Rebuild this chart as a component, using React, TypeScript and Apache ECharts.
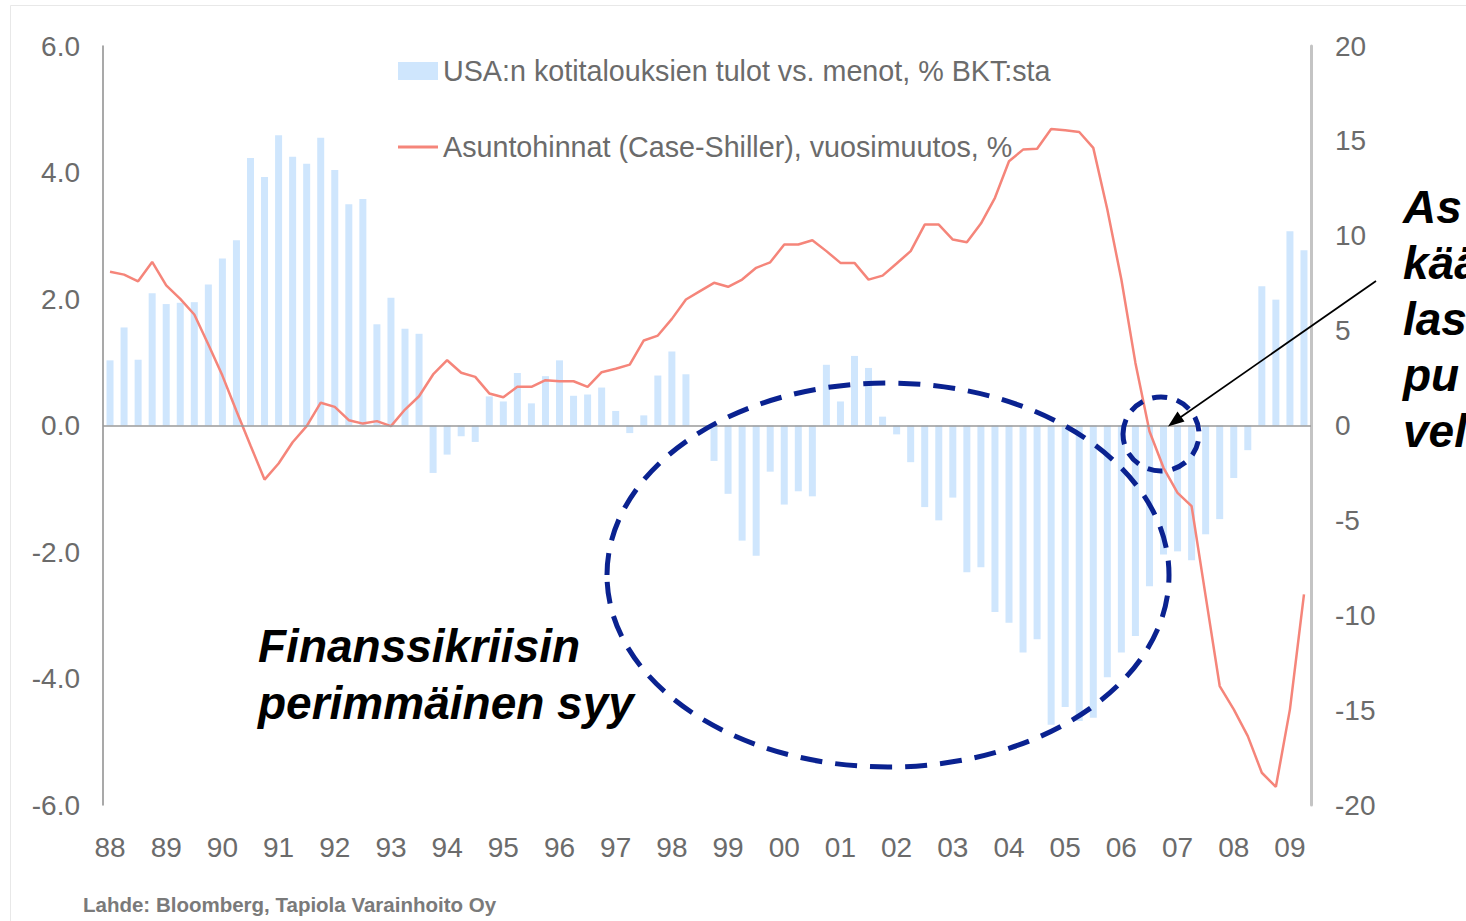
import React, { useEffect, useRef } from 'react';
import * as echarts from 'echarts';

const years = ['88', '89', '90', '91', '92', '93', '94', '95', '96', '97', '98', '99', '00', '01', '02', '03', '04', '05', '06', '07', '08', '09'];
const quarters = ['Q1', 'Q2', 'Q3', 'Q4'];
const lastYearQuarters = 2;

const categories: string[] = [];
years.forEach((y, yi) => {
  const n = yi === years.length - 1 ? lastYearQuarters : 4;
  for (let q = 0; q < n; q++) categories.push(y + quarters[q]);
});

// USA:n kotitalouksien tulot vs. menot, % BKT:sta (left axis)
const incomeVsSpending = [
  1.03, 1.55, 1.04, 2.09, 1.92, 1.94, 1.95, 2.23, 2.64, 2.93,
  4.23, 3.93, 4.59, 4.25, 4.14, 4.55, 4.04, 3.5, 3.58, 1.6,
  2.02, 1.53, 1.45, -0.75, -0.46, -0.17, -0.26, 0.46, 0.38, 0.83,
  0.35, 0.78, 1.03, 0.47, 0.49, 0.6, 0.23, -0.12, 0.16, 0.79,
  1.17, 0.81, 0.0, -0.56, -1.08, -1.82, -2.06, -0.73, -1.25, -1.04,
  -1.12, 0.96, 0.38, 1.1, 0.91, 0.14, -0.14, -0.58, -1.29, -1.5,
  -1.14, -2.32, -2.24, -2.95, -3.12, -3.59, -3.38, -4.73, -4.45, -4.67,
  -4.62, -3.98, -3.59, -3.33, -2.54, -2.04, -1.99, -2.13, -1.72, -1.48,
  -0.83, -0.39, 2.2, 1.99, 3.07, 2.77,
];

// Asuntohinnat (Case-Shiller), vuosimuutos, % (right axis)
const homePrices = [
  8.1, 7.95, 7.6, 8.62, 7.38, 6.67, 5.85, 4.27, 2.63, 0.76,
  -1.05, -2.85, -2.0, -0.88, -0.03, 1.2, 0.98, 0.28, 0.1, 0.23,
  -0.03, 0.84, 1.54, 2.69, 3.44, 2.78, 2.56, 1.69, 1.49, 2.04,
  2.04, 2.39, 2.33, 2.33, 2.04, 2.81, 2.99, 3.21, 4.48, 4.74,
  5.62, 6.64, 7.08, 7.52, 7.31, 7.69, 8.31, 8.6, 9.54, 9.54,
  9.76, 9.19, 8.57, 8.57, 7.69, 7.9, 8.54, 9.19, 10.59, 10.59,
  9.8, 9.66, 10.64, 12.0, 13.93, 14.54, 14.58, 15.63, 15.56, 15.47,
  14.63, 11.38, 7.69, 3.3, -0.3, -2.23, -3.55, -4.25, -8.99, -13.73,
  -14.96, -16.37, -18.3, -19.04, -14.96, -8.9,
];

const barName = 'USA:n kotitalouksien tulot vs. menot, % BKT:sta';
const lineName = 'Asuntohinnat (Case-Shiller), vuosimuutos, %';
const noteLeft = ['Finanssikriisin', 'perimmäinen syy'];
const noteRight = ['As', 'kää', 'las', 'pu', 'vel'];
const sourceText = 'Lahde: Bloomberg, Tapiola Varainhoito Oy';

const FONT = '"Liberation Sans", Arial, sans-serif';
const GRAY = '#6b6b6b';
const NAVY = '#0a2290';
const LINE_COLOR = '#f5857a';

export default function App() {
  const ref = useRef<HTMLDivElement>(null);

  useEffect(() => {
    if (!ref.current) return;
    const chart = echarts.init(ref.current, undefined, { renderer: 'svg' });

    const graphics: any[] = [
      {
        type: 'rect',
        z: 1,
        shape: { x: 10.5, y: 5.5, width: 1600, height: 1000 },
        style: { fill: 'none', stroke: '#e8e8e8', lineWidth: 1 },
        silent: true,
      },
      {
        type: 'ellipse',
        z: 100,
        shape: { cx: 888, cy: 575, rx: 281, ry: 192 },
        style: { fill: 'none', stroke: NAVY, lineWidth: 5, lineDash: [22, 13] },
        silent: true,
      },
      {
        type: 'ellipse',
        z: 100,
        shape: { cx: 1161, cy: 434, rx: 38, ry: 37 },
        style: { fill: 'none', stroke: NAVY, lineWidth: 5, lineDash: [15, 10] },
        silent: true,
      },
      {
        type: 'line',
        z: 100,
        shape: { x1: 1376, y1: 281, x2: 1178, y2: 419 },
        style: { stroke: '#000', lineWidth: 1.8 },
        silent: true,
      },
      {
        type: 'polygon',
        z: 100,
        shape: { points: [[1168, 426.5], [1184.5, 421.5], [1177.5, 411.5]] },
        style: { fill: '#000' },
        silent: true,
      },
      ...noteLeft.map((t, i) => ({
        type: 'text',
        z: 100,
        x: 258,
        y: 646 + i * 57,
        style: { text: t, fill: '#000', font: `italic bold 46px ${FONT}`, verticalAlign: 'middle' },
        silent: true,
      })),
      ...noteRight.map((t, i) => ({
        type: 'text',
        z: 100,
        x: 1403,
        y: 207 + i * 56,
        style: { text: t, fill: '#000', font: `italic bold 46px ${FONT}`, verticalAlign: 'middle' },
        silent: true,
      })),
      {
        type: 'text',
        z: 100,
        x: 83,
        y: 904,
        style: { text: sourceText, fill: '#7a7a7a', font: `bold 20.5px ${FONT}`, verticalAlign: 'middle' },
        silent: true,
      },
    ];

    chart.setOption({
      animation: false,
      backgroundColor: '#ffffff',
      textStyle: { fontFamily: FONT },
      grid: { left: 103, right: 155, top: 46, bottom: 116, containLabel: false },
      legend: {
        orient: 'vertical',
        left: 398,
        top: 56,
        padding: 0,
        itemWidth: 40,
        itemHeight: 18,
        itemGap: 46,
        textStyle: { fontSize: 28.7, color: GRAY, fontFamily: FONT, lineHeight: 30 },
        data: [
          { name: barName, icon: 'rect' },
          { name: lineName, icon: 'path://M0 0H40V3H0Z', itemStyle: { color: LINE_COLOR } },
        ],
      },
      xAxis: {
        type: 'category',
        data: categories,
        boundaryGap: true,
        axisLine: { show: false },
        axisTick: { show: false },
        splitLine: { show: false },
        axisLabel: {
          interval: 3,
          formatter: (v: string) => v.slice(0, 2),
          fontSize: 28,
          color: GRAY,
          margin: 28,
          fontFamily: FONT,
        },
      },
      yAxis: [
        {
          type: 'value',
          position: 'left',
          min: -6,
          max: 6,
          interval: 2,
          axisLine: { show: true, lineStyle: { color: '#8c8c8c', width: 1.5 } },
          axisTick: { show: false },
          splitLine: { show: false },
          axisLabel: {
            formatter: (v: number) => v.toFixed(1),
            fontSize: 28,
            color: GRAY,
            margin: 23,
            fontFamily: FONT,
          },
        },
        {
          type: 'value',
          position: 'right',
          min: -20,
          max: 20,
          interval: 5,
          axisLine: { show: true, lineStyle: { color: '#c4c4c4', width: 3 } },
          axisTick: { show: false },
          splitLine: { show: false },
          axisLabel: { fontSize: 28, color: GRAY, margin: 24, fontFamily: FONT },
        },
      ],
      series: [
        {
          name: barName,
          type: 'bar',
          yAxisIndex: 0,
          data: incomeVsSpending,
          barWidth: 7,
          itemStyle: { color: '#cfe6fd' },
          z: 2,
          markLine: {
            silent: true,
            symbol: 'none',
            label: { show: false },
            lineStyle: { color: '#9a9a9a', width: 1.5, type: 'solid' },
            data: [{ yAxis: 0 }],
          },
        },
        {
          name: lineName,
          type: 'line',
          yAxisIndex: 1,
          data: homePrices,
          symbol: 'none',
          lineStyle: { color: LINE_COLOR, width: 2.5 },
          itemStyle: { color: LINE_COLOR },
          z: 3,
        },
      ],
      graphic: graphics,
    });

    return () => chart.dispose();
  }, []);

  return (
    <div
      ref={ref}
      style={{ position: 'absolute', left: 0, top: 0, width: 1466, height: 921 }}
    />
  );
}
